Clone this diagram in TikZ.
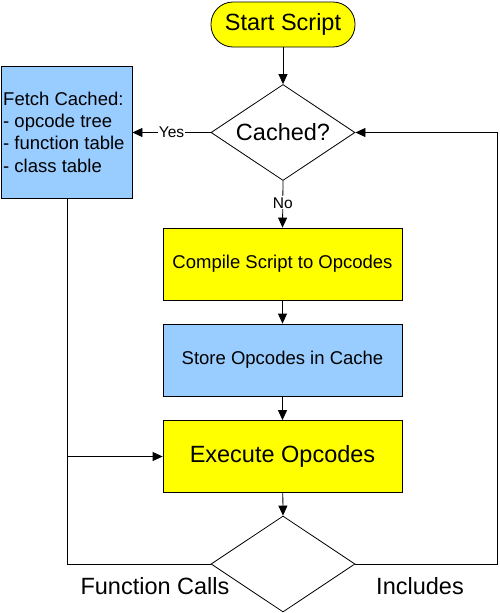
\documentclass[tikz,border=0pt]{standalone}
\usepackage{fontspec}
\setmainfont{Liberation Sans}
\usetikzlibrary{shapes.geometric,arrows.meta}
\definecolor{boxyellow}{HTML}{FFFF00}
\definecolor{boxblue}{HTML}{99CCFF}
\tikzset{
  base/.style={draw=black, line width=0.8pt, inner sep=0pt},
  yellowbox/.style={base, fill=boxyellow, minimum width=239pt, minimum height=72pt, font=\fontsize{18.5}{22}\selectfont},
  bluebox/.style={base, fill=boxblue, minimum width=239pt, minimum height=72pt, font=\fontsize{18.5}{22}\selectfont},
  decision/.style={base, diamond, minimum width=144pt, minimum height=96pt, font=\fontsize{23.5}{28}\selectfont},
  conn/.style={line width=0.8pt, -{Triangle[length=10pt,width=9pt]}},
  line/.style={line width=0.8pt},
  lbl/.style={font=\fontsize{15.5}{18}\selectfont, fill=white, inner sep=1pt},
  biglbl/.style={font=\fontsize{23.5}{28}\selectfont, inner sep=0pt}
}
\begin{document}
\begin{tikzpicture}[x=1pt,y=-1pt]
\useasboundingbox (0,0) rectangle (499,613);
\node[base, fill=boxyellow, minimum width=144pt, minimum height=45pt, rounded corners=22pt, font=\fontsize{23.5}{28}\selectfont] (start) at (283,24.5) {Start Script};
\node[decision] (cached) at (283,132.5) {\makebox[0pt]{Cached?}};
\node[base, fill=boxblue, minimum width=131pt, minimum height=132pt] (fetch) at (66.5,132) {};
\node[anchor=west, align=left, font=\fontsize{18.5}{22.3}\selectfont, inner sep=0pt] (fetchtext) at (3,132) {Fetch Cached:\\- opcode tree\\- function table\\- class table};
\node[yellowbox] (compile) at (282.5,264) {Compile Script to Opcodes};
\node[bluebox] (store) at (282.5,360) {Store Opcodes in Cache};
\node[yellowbox, font=\fontsize{23.5}{28}\selectfont] (exec) at (282.5,456.5) {Execute Opcodes};
\node[decision] (calls) at (283,564) {};
\coordinate (lb) at (67,564);
\coordinate (lm) at (67,456.5);
\coordinate (rb) at (497.5,564);
\coordinate (rt) at (497.5,132.5);
\draw[conn] (start) -- (cached);
\draw[conn] (cached.west) -- node[lbl] {Yes} (fetch.east |- cached.west);
\draw[conn] (cached.south) -- node[lbl, pos=0.47] {No} (compile.north);
\draw[conn] (compile) -- (store);
\draw[conn] (store) -- (exec);
\draw[conn] (exec) -- (calls.north);
\draw[line] (fetch.south -| lb) -- (lb) -- (calls.west);
\draw[conn] (lm) -- (exec.west);
\draw[conn] (calls.east) -- (rb) -- (rt) -- (cached.east);
\node[biglbl] (fc) at (155,586) {Function Calls};
\node[biglbl] (inc) at (420,586) {Includes};
\end{tikzpicture}
\end{document}
